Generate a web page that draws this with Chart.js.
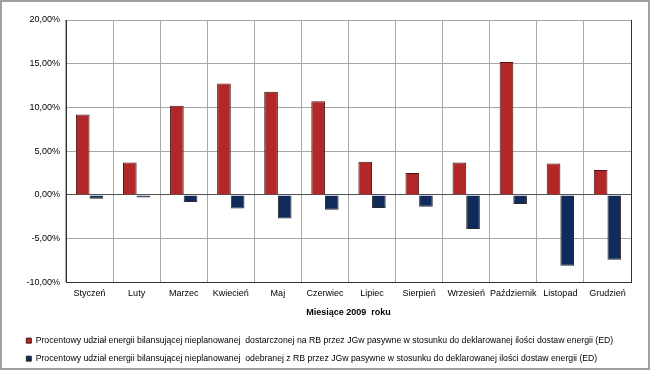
<!DOCTYPE html>
<html>
<head>
<meta charset="utf-8">
<script src="https://cdn.jsdelivr.net/npm/chart.js@4.4.1/dist/chart.umd.min.js"></script>
<style>
  body { margin: 0; background: #fff; }
  canvas { display: block; }
</style>
</head>
<body>
<canvas id="myChart" width="650" height="370"></canvas>
<script>
let months = ['Styczeń', 'Luty', 'Marzec', 'Kwiecień', 'Maj', 'Czerwiec', 'Lipiec', 'Sierpień', 'Wrzesień', 'Październik', 'Listopad', 'Grudzień'];
let delivered = [9.2, 3.7, 10.2, 12.75, 11.8, 10.7, 3.8, 2.5, 3.7, 15.2, 3.6, 2.85];
let received = [-0.45, -0.3, -0.8, -1.55, -2.7, -1.7, -1.5, -1.35, -3.9, -1.05, -8.1, -7.4];
let seriesNames = [
	'Procentowy udział energii bilansującej nieplanowanej  dostarczonej na RB przez JGw pasywne w stosunku do deklarowanej ilości dostaw energii (ED)',
	'Procentowy udział energii bilansującej nieplanowanej  odebranej z RB przez JGw pasywne w stosunku do deklarowanej ilości dostaw energii (ED)'
];
let axisTitle = 'Miesiące 2009  roku';
let yMin = -10, yMax = 20, yStep = 5;

Chart.defaults.font.family = "'Liberation Sans', Arial, sans-serif";
Chart.defaults.font.size = 9;
Chart.defaults.color = '#000';

// outer frame and the dark right edge of the plot
const framePlugin = {
	id: 'frame',
	afterDraw(chart) {
		let c = chart.ctx;
		let a = chart.chartArea;
		c.save();
		c.strokeStyle = '#333';
		c.lineWidth = 1;
		c.beginPath();
		c.moveTo(Math.round(a.right) + 0.5, a.top);
		c.lineTo(Math.round(a.right) + 0.5, a.bottom);
		c.stroke();
		c.strokeStyle = '#a0a0a0';
		c.lineWidth = 2;
		c.strokeRect(1, 1, chart.width - 2, chart.height - 2);
		c.restore();
	}
};

let ctx = document.getElementById('myChart');

new Chart(ctx, {
	type: 'bar',
	data: {
		labels: months,
		datasets: [{
			label: seriesNames[0],
			data: delivered,
			backgroundColor: '#b22828',
			borderColor: '#4a1414',
			borderWidth: 1
		}, {
			label: seriesNames[1],
			data: received,
			backgroundColor: '#102a5c',
			borderColor: '#2a2a2a',
			borderWidth: 1
		}]
	},
	plugins: [framePlugin],
	options: {
		responsive: false,
		animation: false,
		layout: { padding: { left: 17, right: 19, top: 20, bottom: -3 } },
		datasets: { bar: { categoryPercentage: 0.58, barPercentage: 1 } },
		plugins: {
			legend: {
				position: 'bottom',
				align: 'start',
				labels: { boxWidth: 5, boxHeight: 5, padding: 9.3, font: { size: 8.7 } }
			},
			tooltip: { enabled: false }
		},
		scales: {
			x: {
				grid: { color: '#a8a8a8', drawTicks: false },
				border: { color: '#333' },
				ticks: { padding: 6, maxRotation: 0, autoSkip: false },
				title: { display: true, text: axisTitle, font: { size: 9, weight: 'bold' }, padding: { top: 2, bottom: 9 } }
			},
			y: {
				min: yMin,
				max: yMax,
				afterFit: (scale) => { scale.width = 49; },
				grid: {
					color: (c) => c.tick && Math.abs(c.tick.value) < 1e-9 ? '#555' : '#a8a8a8',
					drawTicks: false
				},
				border: { color: '#333' },
				ticks: {
					stepSize: yStep,
					padding: 6,
					callback: (v) => (Math.abs(v) < 1e-9 ? 0 : v).toFixed(2).replace('.', ',') + '%'
				}
			}
		}
	}
});
</script>
</body>
</html>
